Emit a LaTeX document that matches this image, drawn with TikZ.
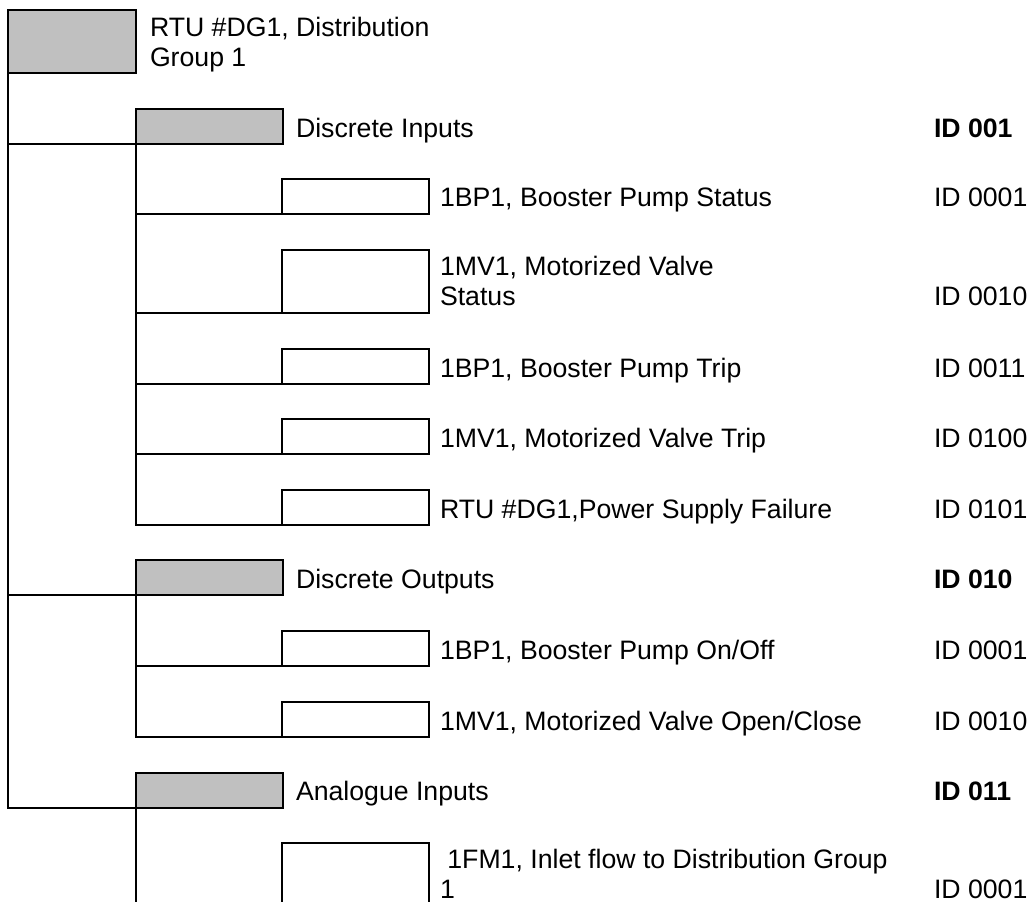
\documentclass[tikz,border=0pt]{standalone}
\usepackage{fontspec}
\setmainfont{Liberation Sans}
\definecolor{boxgray}{RGB}{192,192,192}
\begin{document}
\begin{tikzpicture}[x=0.75pt,y=-0.75pt]

\tikzset{
  group box/.style={
    draw, line width=1.5pt, fill=boxgray,
    inner sep=0pt, outer sep=0pt, anchor=south west,
    minimum width=110pt, minimum height=26.25pt,
  },
  point box/.style={group box, fill=white},
  tall/.style={minimum height=47.25pt},
  entry text/.style={
    anchor=base west, inner sep=0pt, outer sep=0pt,
    align=left, font=\fontsize{20}{22.5}\selectfont,
  },
  id bold/.style={entry text, font=\fontsize{20}{22.5}\selectfont\bfseries},
  link/.style={line width=1.5pt},
}

\useasboundingbox (0,0) rectangle (1034,902);
\clip (0,0) rectangle (1034,902);

% Level 0
\node[group box, tall, minimum width=96pt] (rtu) at (8,73) {};
\node[entry text] (rtu-t) at (150,67) {RTU \#DG1, Distribution\\Group 1};

% Level 1
\node[group box] (din)  at (136,144) {};
\node[group box] (dout) at (136,595) {};
\node[group box] (ain)  at (136,808) {};

\node[entry text] (din-t)  at (296,138) {Discrete Inputs};
\node[entry text] (dout-t) at (296,588) {Discrete Outputs};
\node[entry text] (ain-t)  at (296,800) {Analogue Inputs};

\node[id bold] (din-id)  at (934,138) {ID 001};
\node[id bold] (dout-id) at (934,588) {ID 010};
\node[id bold] (ain-id)  at (934,800) {ID 011};

% Level 2 (discrete inputs)
\node[point box] (bps) at (282,214) {};
\node[point box, tall] (mvs) at (282,313) {};
\node[point box] (bpt) at (282,384) {};
\node[point box] (mvt) at (282,454) {};
\node[point box] (psf) at (282,525) {};

\node[entry text] (bps-t) at (440,207) {1BP1, Booster Pump Status};
\node[entry text] (mvs-t) at (440,305) {1MV1, Motorized Valve\\Status};
\node[entry text] (bpt-t) at (440,377) {1BP1, Booster Pump Trip};
\node[entry text] (mvt-t) at (440,447) {1MV1, Motorized Valve Trip};
\node[entry text] (psf-t) at (440,518) {RTU \#DG1,Power Supply Failure};

\node[entry text] (bps-id) at (934,207) {ID 0001};
\node[entry text] (mvs-id) at (934,305) {ID 0010};
\node[entry text] (bpt-id) at (934,377) {ID 0011};
\node[entry text] (mvt-id) at (934,447) {ID 0100};
\node[entry text] (psf-id) at (934,518) {ID 0101};

% Level 2 (discrete outputs)
\node[point box] (bpo) at (282,666) {};
\node[point box] (mvo) at (282,737) {};

\node[entry text] (bpo-t) at (440,659) {1BP1, Booster Pump On/Off};
\node[entry text] (mvo-t) at (440,730) {1MV1, Motorized Valve Open/Close};

\node[entry text] (bpo-id) at (934,659) {ID 0001};
\node[entry text] (mvo-id) at (934,730) {ID 0010};

% Level 2 (analogue inputs, cut at the page edge)
\node[point box, tall] (fm) at (282,906) {};
\node[entry text] (fm-t) at (440,898) {\ 1FM1, Inlet flow to Distribution Group\\1};
\node[entry text] (fm-id) at (934,898) {ID 0001};

% Edges
\draw[link] (rtu.south west) |- (din.south west);
\draw[link] (rtu.south west) |- (dout.south west);
\draw[link] (rtu.south west) |- (ain.south west);

\draw[link] (din.south west) |- (bps.south west);
\draw[link] (din.south west) |- (mvs.south west);
\draw[link] (din.south west) |- (bpt.south west);
\draw[link] (din.south west) |- (mvt.south west);
\draw[link] (din.south west) |- (psf.south west);

\draw[link] (dout.south west) |- (bpo.south west);
\draw[link] (dout.south west) |- (mvo.south west);

\draw[link] (ain.south west) |- (fm.south west);

\end{tikzpicture}
\end{document}
